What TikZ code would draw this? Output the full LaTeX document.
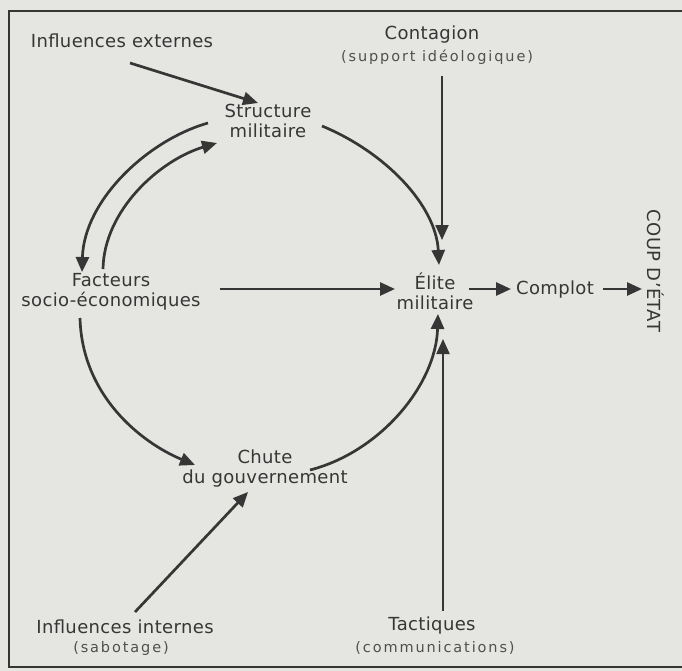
\documentclass[tikz,border=0pt]{standalone}
\usepackage{fontspec}
\setmainfont{DejaVu Sans}
\usetikzlibrary{arrows.meta,calc}
\definecolor{bg}{HTML}{E5E5E2}
\definecolor{ink}{HTML}{363636}
\definecolor{inksoft}{HTML}{505050}
\begin{document}
\begin{tikzpicture}[x=1pt,y=-1pt,
  lbl/.style={text=ink,font=\fontsize{18}{20}\selectfont\addfontfeatures{LetterSpace=2},align=center,inner sep=0pt},
  sub/.style={text=inksoft,font=\fontsize{14.5}{17}\selectfont\addfontfeatures{LetterSpace=13},inner sep=0pt},
  conn/.style={draw=ink,line width=2.7pt,-{Triangle[length=15pt,width=13pt]}},
  thin/.style={draw=ink,line width=2.2pt,-{Triangle[length=15pt,width=13pt]}}]
\fill[bg] (0,0) rectangle (682,671);
\useasboundingbox (0,0) rectangle (682,671);
\draw[ink,line width=2pt] (682,11) -- (9,11) -- (9,667) -- (682,667);

\node[lbl] (ext) at (122,41) {Influences externes};
\node[lbl] (struct) at (268,121) {Structure\\militaire};
\node[lbl] (cont) at (432,35) {Contagion};
\node[sub] (contsub) at (437,57) {(support idéologique)};
\node[lbl] (fact) at (111,292) {Facteurs\\socio-économiques};
\node[lbl] (elite) at (435,291) {Élite\\militaire};
\node[lbl] (complot) at (555,290) {Complot};
\node[lbl,rotate=-90] (coup) at (656,271) {COUP D'ÉTAT};
\node[lbl] (chute) at (265,469) {Chute\\du gouvernement};
\node[lbl] (intl) at (125,627) {Influences internes};
\node[sub] (intsub) at (121,648) {(sabotage)};
\node[lbl] (tact) at (432,626) {Tactiques};
\node[sub] (tactsub) at (435,648) {(communications)};

% straight connectors
\draw[conn] ($(ext)+(8,22)$) -- ($(struct)+(-10,-18)$);
\draw[thin] ($(contsub)+(5,19)$) -- ($(elite)+(7,-51)$);
\draw[conn] ($(fact)+(109,-3)$) -- ($(elite)+(-40,-2)$);
\draw[conn] ($(elite)+(34,-2)$) -- ($(complot)+(-44,-1)$);
\draw[conn] ($(complot)+(48,-1)$) -- ($(coup)+(-14,18)$);
\draw[thin] ($(tact)+(11,-15)$) -- ($(elite)+(8,48)$);
\draw[conn] ($(intl)+(10,-15)$) -- ($(chute)+(-17,23)$);

% curved connectors
\draw[conn] ($(struct)+(54,5)$) .. controls (385,152) and (436,205) .. ($(elite)+(4,-26)$);
\draw[conn] ($(struct)+(-60,2)$) .. controls (148,140) and (84,200) .. ($(fact)+(-29,-20)$);
\draw[conn] ($(fact)+(-8,-23)$) .. controls (104,210) and (160,160) .. ($(struct)+(-51,22)$);
\draw[conn] ($(fact)+(-31,26)$) .. controls (82,395) and (140,442) .. ($(chute)+(-70,-4)$);
\draw[conn] ($(chute)+(45,1)$) .. controls (380,452) and (436,385) .. ($(elite)+(3,23)$);
\end{tikzpicture}
\end{document}
